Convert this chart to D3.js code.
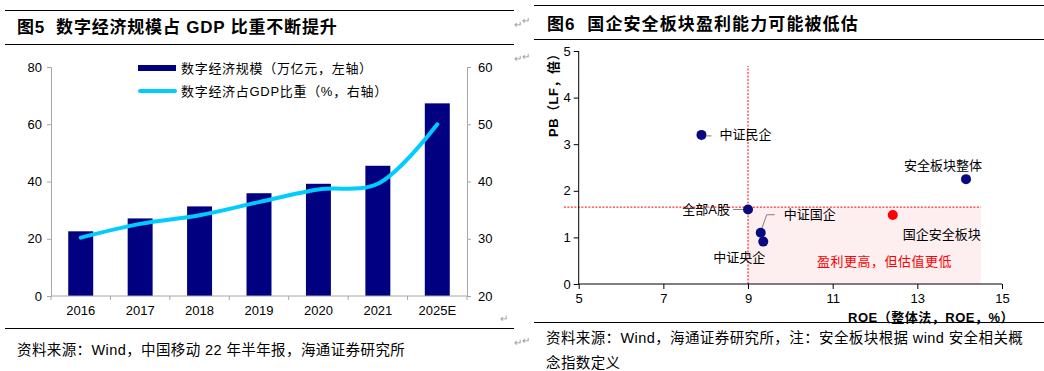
<!DOCTYPE html>
<html>
<head>
<meta charset="utf-8">
<script src="https://cdn.jsdelivr.net/npm/d3@7"></script>
<style>
  body { margin: 0; background: #fff; }
  svg text { font-family: "Liberation Sans", Arial, "Noto Sans CJK SC", sans-serif; white-space: pre; }
</style>
</head>
<body>
<svg id="chart" width="1044" height="371"></svg>
<script>
// ---- data: left chart (fig 5) ----
const years = ["2016", "2017", "2018", "2019", "2020", "2021", "2025E"];
const scale = [22.6, 27.1, 31.3, 35.9, 39.2, 45.5, 67.3];      // 万亿元, left axis
const share = [30.2, 32.6, 34.1, 36.4, 38.6, 39.6, 50.0];      // %, right axis
const leftTicks = [0, 20, 40, 60, 80];
const rightTicks = [20, 30, 40, 50, 60];

// ---- data: right chart (fig 6) ----
const names = ["中证民企", "安全板块整体", "全部A股", "中证国企", "中证央企", "国企安全板块"];
const roe = [7.9, 14.15, 9.0, 9.3, 9.36, 12.42];
const pb = [3.2, 2.25, 1.6, 1.1, 0.91, 1.48];
const roeTicks = [5, 7, 9, 11, 13, 15];
const pbTicks = [0, 1, 2, 3, 4, 5];
const refRoe = 9.0, refPb = 1.65;

const svg = d3.select("#chart");
const CJK = '"Liberation Sans", Arial, "Noto Sans CJK SC", sans-serif';

// paragraph marks from the word document
function mark(g, x0, y0) {
  g.append("text").attr("x", x0).attr("y", y0).attr("font-size", 10).attr("fill", "#999").text("↵");
}

// ================= left panel =================
const L = svg.append("g");

L.append("line").attr("x1", 5).attr("x2", 514).attr("y1", 10.5).attr("y2", 10.5).attr("stroke", "#000");
L.append("line").attr("x1", 5).attr("x2", 514).attr("y1", 44.5).attr("y2", 44.5).attr("stroke", "#000");
L.append("text").attr("x", 17).attr("y", 33).attr("font-size", 17).attr("font-weight", "bold")
  .attr("letter-spacing", 0.8).text("图5  数字经济规模占 GDP 比重不断提升");
L.append("line").attr("x1", 5).attr("x2", 514).attr("y1", 328.5).attr("y2", 328.5).attr("stroke", "#000");
L.append("text").attr("x", 17).attr("y", 355).attr("font-size", 14.5).attr("letter-spacing", 0.4)
  .text("资料来源：Wind，中国移动 22 年半年报，海通证券研究所");
mark(L, 514, 28); mark(L, 514, 62); mark(L, 500, 322); mark(L, 514, 346);

const x = d3.scaleBand().domain(years).range([51, 467]).padding(0);
const yL = d3.scaleLinear().domain([0, 80]).range([296, 67]);
const yR = d3.scaleLinear().domain([20, 60]).range([296, 67]);
const barW = x.bandwidth() * 0.42;

// bars
L.append("g").selectAll("rect").data(years).enter().append("rect")
  .attr("x", d => x(d) + (x.bandwidth() - barW) / 2)
  .attr("width", barW)
  .attr("y", (d, i) => yL(scale[i]))
  .attr("height", (d, i) => yL(0) - yL(scale[i]))
  .attr("fill", "#000080");

// axes
const axisGray = "#a6a6a6";
const gl = L.append("g").attr("transform", "translate(51,0)")
  .call(d3.axisLeft(yL).tickValues(leftTicks).tickSize(4).tickPadding(5));
const gr = L.append("g").attr("transform", "translate(467,0)")
  .call(d3.axisRight(yR).tickValues(rightTicks).tickSize(4).tickPadding(7));
const gb = L.append("g").attr("transform", "translate(0,296)")
  .call(d3.axisBottom(x).tickSize(0).tickPadding(10));
[gl, gr, gb].forEach(g => {
  g.selectAll("path,line").attr("stroke", axisGray);
  g.selectAll("text").attr("font-size", 13).attr("fill", "#000").style("font-family", CJK);
});
gb.selectAll("path").attr("d", "M51,0H467");
// category boundary ticks
L.append("g").selectAll("line").data(years.concat(["end"])).enter().append("line")
  .attr("x1", d => d === "end" ? 467 : x(d)).attr("x2", d => d === "end" ? 467 : x(d))
  .attr("y1", 296).attr("y2", 300).attr("stroke", axisGray);

// share line
const line = d3.line()
  .x((d, i) => x(years[i]) + x.bandwidth() / 2)
  .y(d => yR(d))
  .curve(d3.curveCatmullRom.alpha(0.5));
L.append("path").datum(share).attr("d", line)
  .attr("fill", "none").attr("stroke", "#00ccff").attr("stroke-width", 4).attr("stroke-linecap", "round");

// legend
L.append("rect").attr("x", 138).attr("y", 65).attr("width", 38).attr("height", 6).attr("fill", "#000080");
L.append("text").attr("x", 181).attr("y", 73).attr("font-size", 13).attr("letter-spacing", 0.7)
  .text("数字经济规模（万亿元，左轴）");
L.append("line").attr("x1", 140).attr("x2", 175).attr("y1", 91).attr("y2", 91)
  .attr("stroke", "#00ccff").attr("stroke-width", 4).attr("stroke-linecap", "round");
L.append("text").attr("x", 181).attr("y", 96).attr("font-size", 13).attr("letter-spacing", 0.7)
  .text("数字经济占GDP比重（%，右轴）");

// ================= right panel =================
const R = svg.append("g");
R.append("line").attr("x1", 534).attr("x2", 1044).attr("y1", 5.5).attr("y2", 5.5).attr("stroke", "#000");
R.append("line").attr("x1", 534).attr("x2", 1044).attr("y1", 39.5).attr("y2", 39.5).attr("stroke", "#000");
R.append("text").attr("x", 547).attr("y", 30).attr("font-size", 17).attr("font-weight", "bold")
  .attr("letter-spacing", 1.1).text("图6  国企安全板块盈利能力可能被低估");
R.append("line").attr("x1", 534).attr("x2", 1044).attr("y1", 322.5).attr("y2", 322.5).attr("stroke", "#000");
R.append("text").attr("x", 546).attr("y", 343).attr("font-size", 14.5).attr("letter-spacing", 0.4)
  .text("资料来源：Wind，海通证券研究所，注：安全板块根据 wind 安全相关概");
R.append("text").attr("x", 546).attr("y", 368).attr("font-size", 14.5).attr("letter-spacing", 0.4)
  .text("念指数定义");
mark(L, 522, 24); mark(L, 522, 60); mark(L, 522, 344);

const xs = d3.scaleLinear().domain([5, 15]).range([578.7, 1002]);
const ys = d3.scaleLinear().domain([0, 5]).range([284, 51]);

// shaded quadrant
R.append("rect")
  .attr("x", xs(refRoe)).attr("y", ys(refPb))
  .attr("width", xs(14.5) - xs(refRoe)).attr("height", ys(0) - ys(refPb))
  .attr("fill", "#fdeef0");

// reference lines
R.append("line").attr("x1", xs(refRoe)).attr("x2", xs(refRoe)).attr("y1", ys(0)).attr("y2", ys(4.68))
  .attr("stroke", "#ff0000").attr("stroke-dasharray", "2,1.5");
R.append("line").attr("x1", xs(4.65)).attr("x2", xs(14.5)).attr("y1", ys(refPb)).attr("y2", ys(refPb))
  .attr("stroke", "#ff0000").attr("stroke-dasharray", "2,1.5");

// axes
const ax = R.append("g").attr("transform", `translate(0,${ys(0)})`)
  .call(d3.axisBottom(xs).tickValues(roeTicks).tickSize(5).tickPadding(5).tickFormat(d3.format("d")));
const ay = R.append("g").attr("transform", `translate(${xs(5)},0)`)
  .call(d3.axisLeft(ys).tickValues(pbTicks).tickSize(5).tickPadding(3).tickFormat(d3.format("d")));
[ax, ay].forEach(g => {
  g.selectAll("path,line").attr("stroke", "#000");
  g.selectAll("text").attr("font-size", 13).attr("fill", "#000").style("font-family", CJK);
});
ax.select("path").attr("d", `M${xs(5)},0H${xs(15)}`);
ay.select("path").attr("d", `M0,${ys(0)}V${ys(5)}`);

R.append("text").attr("x", 1014).attr("y", 322).attr("text-anchor", "end")
  .attr("font-size", 13).attr("font-weight", "bold").attr("letter-spacing", 0.5).text("ROE（整体法，ROE，%）");
R.append("text").attr("transform", `translate(558,92) rotate(-90)`).attr("text-anchor", "middle")
  .attr("font-size", 13).attr("font-weight", "bold").attr("letter-spacing", 0.5).text("PB（LF，倍）");

// leader lines (label positions, px offsets from the point)
const labelPos = [
  { dx: 18, dy: 4, anchor: "start", lead: [[5, 1], [10, 1]] },
  { dx: -62, dy: -9, anchor: "start", lead: null },
  { dx: -18, dy: 5, anchor: "end", lead: [[-5, 0], [-15, 0]] },
  { dx: 23, dy: -14, anchor: "start", lead: [[1, -4], [6, -18], [14, -18]] },
  { dx: -50, dy: 20, anchor: "start", lead: null },
  { dx: 10, dy: 24, anchor: "start", lead: null }
];
names.forEach((n, i) => {
  const px = xs(roe[i]), py = ys(pb[i]), p = labelPos[i];
  if (p.lead) {
    R.append("path").attr("d", d3.line()(p.lead.map(q => [px + q[0], py + q[1]])))
      .attr("fill", "none").attr("stroke", "#808080").attr("stroke-width", 1);
  }
  R.append("circle").attr("cx", px).attr("cy", py).attr("r", 5)
    .attr("fill", i === 5 ? "#ff0000" : "#0a0a80");
  R.append("text").attr("x", px + p.dx).attr("y", py + p.dy).attr("text-anchor", p.anchor)
    .attr("font-size", 13).text(n);
});

R.append("text").attr("x", 817).attr("y", 266).attr("font-size", 13).attr("fill", "#ff0000")
  .attr("letter-spacing", 0.5).text("盈利更高，但估值更低");
</script>
</body>
</html>
